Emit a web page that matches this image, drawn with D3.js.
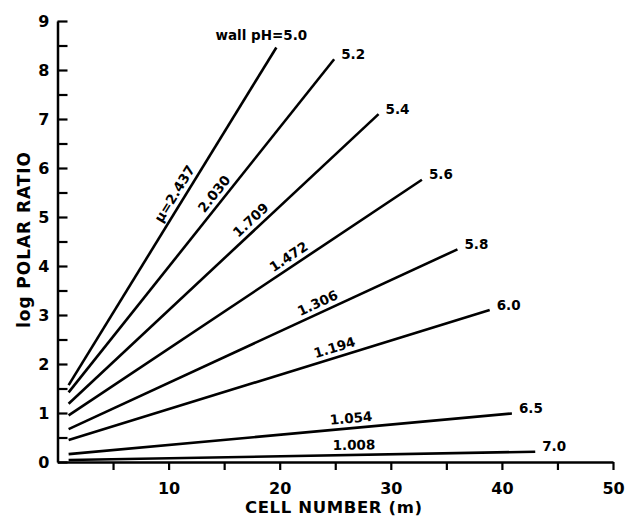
<!DOCTYPE html>
<html lang="en">
<head>
<meta charset="UTF-8">
<title>log polar ratio vs cell number</title>
<script src="https://d3js.org/d3.v7.min.js"></script>
<style>
    body { margin: 0; background: #ffffff; }
    svg { display: block; font-family: 'DejaVu Sans', sans-serif; }
    .axis path, .axis line { stroke: #000; }
    .axis text { font-size: 16px; font-weight: bold; fill: #000; }
    .line { fill: none; stroke: #000; stroke-width: 2.6; }
    .lbl { font-size: 13.5px; font-weight: bold; fill: #000; }
</style>
</head>
<body>
<svg id="chart" width="625" height="518"></svg>
<script>
    // wall pH for each curve and its mu value
    var wallPH = ["5.0", "5.2", "5.4", "5.6", "5.8", "6.0", "6.5", "7.0"];
    var mu = ["2.437", "2.030", "1.709", "1.472", "1.306", "1.194", "1.054", "1.008"];
    // straight lines: start and end (cell number m, log polar ratio)
    var mStart = [1, 1, 1, 1, 1, 1, 1, 1];
    var logStart = [1.57, 1.42, 1.19, 0.95, 0.67, 0.45, 0.16, 0.04];
    var mEnd = [19.7, 24.9, 28.9, 32.8, 36.0, 38.9, 40.9, 43.0];
    var logEnd = [8.46, 8.22, 7.10, 5.76, 4.34, 3.10, 0.99, 0.21];
    var xTickVals = [5, 10, 15, 20, 25, 30, 35, 40, 45, 50];
    var yTickVals = [0, 0.5, 1, 1.5, 2, 2.5, 3, 3.5, 4, 4.5, 5, 5.5, 6, 6.5, 7, 7.5, 8, 8.5, 9];

    // where along each line the mu label sits (in m)
    var muLabelAt = [11.3, 14.8, 18.0, 21.3, 23.8, 25.2, 26.5, 26.7];

    var svg = d3.select("#chart");

    var x = d3.scaleLinear().domain([0, 50]).range([57.5, 613]);
    var y = d3.scaleLinear().domain([0, 9]).range([462, 21]);

    var data = wallPH.map(function (p, i) {
        return {
            ph: p, mu: mu[i],
            pts: [[mStart[i], logStart[i]], [mEnd[i], logEnd[i]]],
            at: muLabelAt[i]
        };
    });

    // axes
    var xAxis = svg.append("g")
        .attr("class", "axis")
        .attr("transform", "translate(0," + y(0) + ")")
        .call(d3.axisBottom(x)
            .tickValues(xTickVals)
            .tickSizeInner(8)
            .tickSizeOuter(0)
            .tickPadding(13)
            .tickFormat(function (d) { return d % 10 === 0 ? d : ""; }));
    xAxis.select(".domain").attr("stroke-width", 2.5);
    xAxis.selectAll(".tick line").attr("stroke-width", 2.2);

    var yAxis = svg.append("g")
        .attr("class", "axis")
        .attr("transform", "translate(" + x(0) + ",0)")
        .call(d3.axisLeft(y)
            .tickValues(yTickVals)
            .tickSizeInner(-10)
            .tickSizeOuter(0)
            .tickPadding(8)
            .tickFormat(function (d) { return d % 1 === 0 ? d : ""; }));
    yAxis.select(".domain").attr("stroke-width", 2.5);
    yAxis.selectAll(".tick line").attr("stroke-width", 2.2);
    svg.selectAll(".axis").attr("font-family", null).attr("font-size", null);

    // axis titles
    svg.append("text")
        .attr("x", 333.5)
        .attr("y", 513)
        .attr("text-anchor", "middle")
        .attr("textLength", 177)
        .attr("lengthAdjust", "spacing")
        .style("font-size", "16.5px")
        .style("font-weight", "bold")
        .text("CELL NUMBER (m)");

    svg.append("text")
        .attr("transform", "translate(30,240) rotate(-90)")
        .attr("text-anchor", "middle")
        .attr("textLength", 176)
        .attr("lengthAdjust", "spacing")
        .style("font-size", "17px")
        .style("font-weight", "bold")
        .text("log POLAR RATIO");

    // lines
    var line = d3.line()
        .x(function (d) { return x(d[0]); })
        .y(function (d) { return y(d[1]); });

    svg.selectAll("path.line")
        .data(data)
        .enter().append("path")
        .attr("class", "line")
        .attr("d", function (d) { return line(d.pts); });

    // pH labels at line ends
    svg.selectAll("text.ph")
        .data(data)
        .enter().append("text")
        .attr("class", "lbl ph")
        .attr("x", function (d, i) {
            var ex = x(d.pts[1][0]);
            return i === 0 ? ex - 15 : ex + 7;
        })
        .attr("y", function (d, i) {
            var ey = y(d.pts[1][1]);
            return i === 0 ? ey - 12 : ey - 5;
        })
        .attr("dy", "0.35em")
        .attr("text-anchor", function (d, i) { return i === 0 ? "middle" : "start"; })
        .text(function (d, i) { return i === 0 ? "wall pH=" + d.ph : d.ph; });

    // mu labels along the lines
    svg.selectAll("text.mu")
        .data(data)
        .enter().append("text")
        .attr("class", "lbl mu")
        .attr("text-anchor", "middle")
        .attr("dy", "0.35em")
        .attr("transform", function (d) {
            var p0 = d.pts[0], p1 = d.pts[1];
            var t = (d.at - p0[0]) / (p1[0] - p0[0]);
            var ly = p0[1] + t * (p1[1] - p0[1]);
            var px = x(d.at), py = y(ly);
            var dx = x(p1[0]) - x(p0[0]), dy = y(p1[1]) - y(p0[1]);
            var len = Math.sqrt(dx * dx + dy * dy);
            var nx = dy / len, ny = -dx / len;
            var ang = Math.atan2(dy, dx) * 180 / Math.PI;
            return "translate(" + (px + nx * 10) + "," + (py + ny * 10) + ") rotate(" + ang + ")";
        })
        .text(function (d, i) { return i === 0 ? "\u03bc=" + d.mu : d.mu; });
</script>
</body>
</html>
